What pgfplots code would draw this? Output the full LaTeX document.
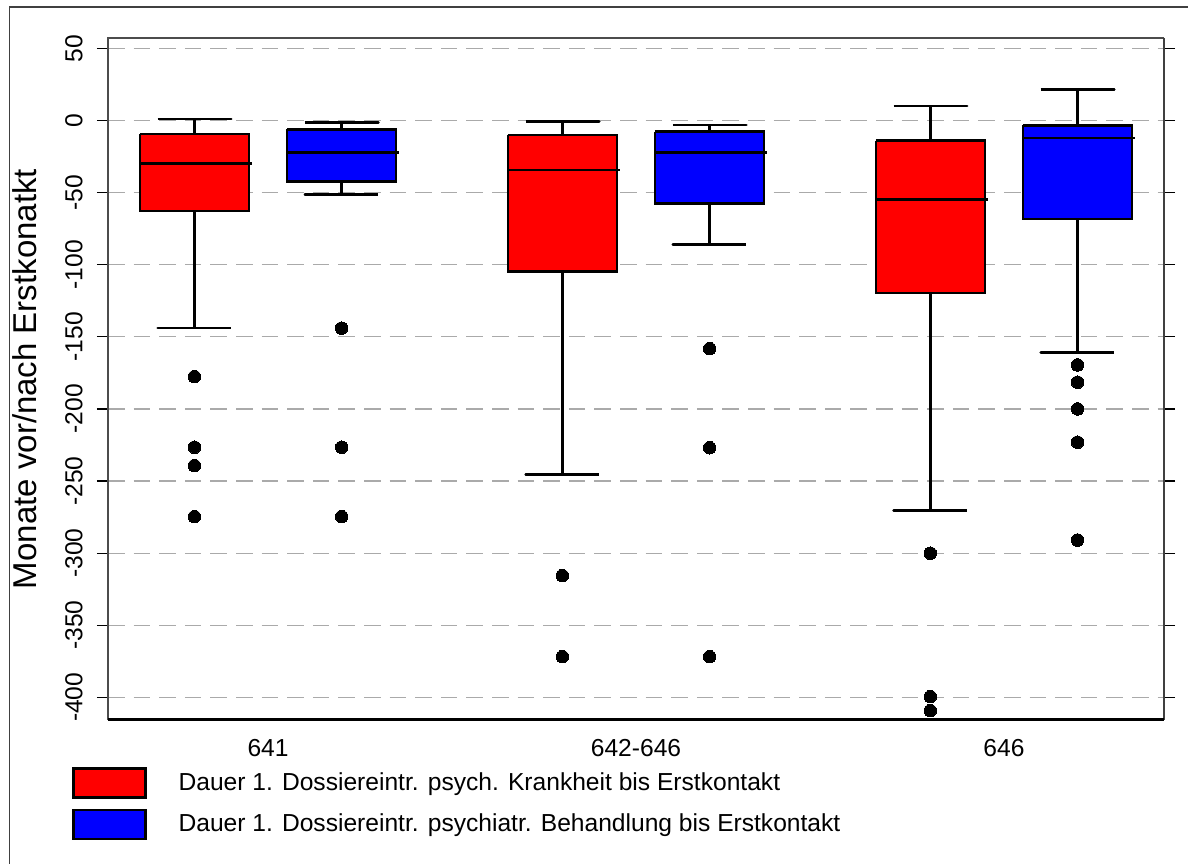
\documentclass[border=0pt]{standalone}
\usepackage{fontspec}
\setmainfont{Liberation Sans}
\usepackage{pgfplots}
\pgfplotsset{compat=1.18}

\definecolor{gridgray}{RGB}{170,170,170}
\newcommand{\tickfont}{\fontsize{12.3bp}{14bp}\selectfont}

\begin{document}
\begin{tikzpicture}
\useasboundingbox (0bp,0bp) rectangle (594bp,432bp);
% outer frame (left and top only)
\draw[line width=0.6bp, black!75] (4.75bp,0bp) -- (4.75bp,428.5bp) -- (594bp,428.5bp);

\begin{axis}[
  name=ax,
  at={(54bp,72bp)}, anchor=south west,
  scale only axis,
  width=528bp, height=341bp,
  xmin=0.565, xmax=3.435,
  ymin=-415.7, ymax=57.2,
  xtick={1,2,3},
  xticklabels={641,642-646,646},
  xtick style={draw=none},
  ytick={-400,-350,-300,-250,-200,-150,-100,-50,0,50},
  tick align=outside,
  major tick length=5.5bp,
  ytick style={black, line width=0.6bp},
  ymajorgrids,
  major grid style={gridgray, line width=0.6bp, dash pattern=on 8.3bp off 4.5bp},
  axis line style={draw=none},
  tick label style={font=\tickfont},
  /pgf/number format/assume math mode=true,
  yticklabel style={rotate=90, anchor=south, inner sep=0pt},
  yticklabel shift=7bp,
  xticklabel style={anchor=north, inner sep=0pt},
  xticklabel shift=4bp,
  ylabel={Monate vor/nach Erstkonatkt},
  every axis y label/.style={at={(axis description cs:-0.0785,0.5)}, rotate=90, anchor=center, font=\fontsize{16.5bp}{18bp}\selectfont},
  legend style={draw=none, fill=none, at={(axis description cs:-0.0341,-0.069)}, anchor=north west,
    inner sep=0pt, outer sep=0pt, row sep=5bp, column sep=16bp, font=\tickfont,
    nodes={inner sep=0pt}},
  legend cell align=left,
  whisk/.style={forget plot, black, line width=1.3bp, line join=round, mark=none},
  redbox/.style={forget plot, draw=black, fill=red, line width=1.3bp, mark=none},
  bluebox/.style={forget plot, draw=black, fill=blue, line width=1.3bp, mark=none},
  med/.style={forget plot, black, line width=1.3bp, mark=none},
  outl/.style={forget plot, only marks, mark=*, mark size=3.15bp, mark options={fill=black, draw=black, line width=0pt}},
]

\addlegendimage{legend image code/.code={\draw[fill=red, draw=black, line width=1.3bp] (0bp,-7.25bp) rectangle (36bp,7.25bp);}}
\addlegendentry{Dauer 1. Dossiereintr. psych. Krankheit bis Erstkontakt}
\addlegendimage{legend image code/.code={\draw[fill=blue, draw=black, line width=1.3bp] (0bp,-7.25bp) rectangle (36bp,7.25bp);}}
\addlegendentry{Dauer 1. Dossiereintr. psychiatr. Behandlung bis Erstkontakt}

% ---- 641, red (pos 0.8): uw 1.0, uq -9.4, med -29.7, lq -62.7, lw -144
\addplot[whisk] coordinates {(0.7,1.0) (0.9,1.0) (0.8,1.0) (0.8,-144) (0.7,-144) (0.9,-144)};
\addplot[redbox] coordinates {(0.652,-9.4) (0.948,-9.4) (0.948,-62.7) (0.652,-62.7) (0.652,-9.4)};
\addplot[med] coordinates {(0.652,-29.7) (0.956,-29.7)};
\addplot[outl] coordinates {(0.8,-177.6) (0.8,-226.6) (0.8,-239.3) (0.8,-274.7)};

% ---- 641, blue (pos 1.2): uw -1.5, uq -6.1, med -22, lq -42.4, lw -51.2
\addplot[whisk] coordinates {(1.1,-1.5) (1.3,-1.5) (1.2,-1.5) (1.2,-51.2) (1.1,-51.2) (1.3,-51.2)};
\addplot[bluebox] coordinates {(1.052,-6.1) (1.348,-6.1) (1.348,-42.4) (1.052,-42.4) (1.052,-6.1)};
\addplot[med] coordinates {(1.052,-22) (1.356,-22)};
\addplot[outl] coordinates {(1.2,-144) (1.2,-226.6) (1.2,-274.7)};

% ---- 642-646, red (pos 1.8): uw -0.6, uq -10, med -34.3, lq -104.8, lw -245.3
\addplot[whisk] coordinates {(1.7,-0.6) (1.9,-0.6) (1.8,-0.6) (1.8,-245.3) (1.7,-245.3) (1.9,-245.3)};
\addplot[redbox] coordinates {(1.652,-10) (1.948,-10) (1.948,-104.8) (1.652,-104.8) (1.652,-10)};
\addplot[med] coordinates {(1.652,-34.3) (1.956,-34.3)};
\addplot[outl] coordinates {(1.8,-315.6) (1.8,-371.8)};

% ---- 642-646, blue (pos 2.2): uw -3.1, uq -7.8, med -22, lq -57.4, lw -86.1
\addplot[whisk] coordinates {(2.1,-3.1) (2.3,-3.1) (2.2,-3.1) (2.2,-86.1) (2.1,-86.1) (2.3,-86.1)};
\addplot[bluebox] coordinates {(2.052,-7.8) (2.348,-7.8) (2.348,-57.4) (2.052,-57.4) (2.052,-7.8)};
\addplot[med] coordinates {(2.052,-22) (2.356,-22)};
\addplot[outl] coordinates {(2.2,-158.2) (2.2,-226.9) (2.2,-371.8)};

% ---- 646, red (pos 2.8): uw 10, uq -14, med -54.9, lq -119.6, lw -270.6
\addplot[whisk] coordinates {(2.7,10) (2.9,10) (2.8,10) (2.8,-270.6) (2.7,-270.6) (2.9,-270.6)};
\addplot[redbox] coordinates {(2.652,-14) (2.948,-14) (2.948,-119.6) (2.652,-119.6) (2.652,-14)};
\addplot[med] coordinates {(2.652,-54.9) (2.956,-54.9)};
\addplot[outl] coordinates {(2.8,-300.1) (2.8,-399.5) (2.8,-409.2)};

% ---- 646, blue (pos 3.2): uw 21.6, uq -3.3, med -12.1, lq -68.3, lw -160.7
\addplot[whisk] coordinates {(3.1,21.6) (3.3,21.6) (3.2,21.6) (3.2,-160.7) (3.1,-160.7) (3.3,-160.7)};
\addplot[bluebox] coordinates {(3.052,-3.3) (3.348,-3.3) (3.348,-68.3) (3.052,-68.3) (3.052,-3.3)};
\addplot[med] coordinates {(3.052,-12.1) (3.356,-12.1)};
\addplot[outl] coordinates {(3.2,-169.5) (3.2,-181.5) (3.2,-200) (3.2,-223.1) (3.2,-290.9)};
\end{axis}

% axis frame
\draw[line width=0.6bp, black!70] (ax.south west) -- (ax.north west) -- (ax.north east);
\draw[line width=1bp, black!75] (ax.north east) -- (ax.south east);
\draw[line width=1.5bp, black] (ax.south west) -- (ax.south east);
\end{tikzpicture}
\end{document}
